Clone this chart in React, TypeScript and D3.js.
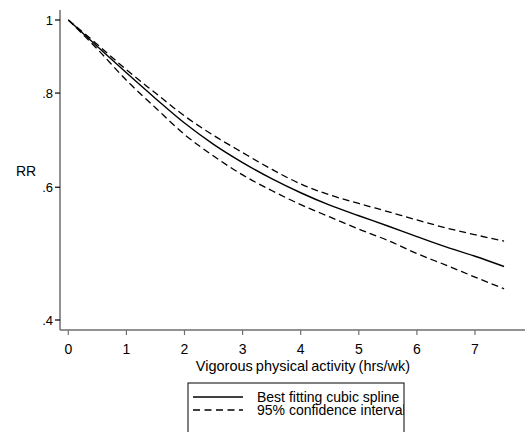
import React from "react";
import * as d3 from "d3";

// Vigorous physical activity (hrs/wk)
const hours = [0, 0.5, 1, 1.5, 2, 2.5, 3, 3.5, 4, 4.5, 5, 5.5, 6, 6.5, 7, 7.5];
// Relative risk from the fitted cubic spline
const rrFit = [1.0, 0.922, 0.851, 0.787, 0.73, 0.684, 0.647, 0.616, 0.59, 0.568, 0.55, 0.533, 0.516, 0.5, 0.486, 0.471];
// 95% confidence bounds
const rrUpper = [1.0, 0.928, 0.859, 0.8, 0.746, 0.703, 0.667, 0.634, 0.606, 0.586, 0.571, 0.557, 0.543, 0.53, 0.519, 0.509];
const rrLower = [1.0, 0.915, 0.832, 0.765, 0.705, 0.66, 0.623, 0.594, 0.569, 0.548, 0.528, 0.51, 0.49, 0.473, 0.456, 0.44];

const xTicks = [0, 1, 2, 3, 4, 5, 6, 7];
const yTicks = [0.4, 0.6, 0.8, 1];
const yTickLabels = [".4", ".6", ".8", "1"];
const legendLabels = ["Best fitting cubic spline", "95% confidence interval"];

const W = 525;
const H = 432;
const FONT = "'Liberation Sans', Arial, sans-serif";

export default function App() {
  const x = d3.scaleLinear().domain([0, 7]).range([68.3, 475]);
  const y = d3.scaleLog().domain([1, 0.4]).range([20, 320]);

  const line = d3
    .line<[number, number]>()
    .x((d) => x(d[0]))
    .y((d) => y(d[1]))
    .curve(d3.curveMonotoneX);

  const series = (vals: number[]) => line(hours.map((h, i) => [h, vals[i]] as [number, number])) || "";

  const axisColor = "#6e6e6e";
  const xAxisY = 330;
  const yAxisX = 60;

  const legendX = 188;
  const legendY = 383;
  const legendW = 216;

  return (
    <svg
      width={W}
      height={H}
      style={{ position: "absolute", left: 0, top: 0, background: "#fff" }}
      fontFamily={FONT}
    >
      <defs>
        <clipPath id="legend-clip">
          <rect x={legendX} y={legendY} width={legendW} height={70} />
        </clipPath>
      </defs>
      <rect width={W} height={H} fill="#fff" />
      {/* axes */}
      <line x1={yAxisX} x2={yAxisX} y1={10} y2={xAxisY} stroke={axisColor} strokeWidth={1.5} />
      <line x1={yAxisX} x2={W} y1={xAxisY} y2={xAxisY} stroke={axisColor} strokeWidth={1.5} />
      {yTicks.map((t, i) => (
        <g key={t}>
          <line x1={yAxisX - 5} x2={yAxisX} y1={y(t)} y2={y(t)} stroke="#000" strokeWidth={1.2} />
          <text x={yAxisX - 7} y={y(t)} dy="0.35em" textAnchor="end" fontSize={13}>
            {yTickLabels[i]}
          </text>
        </g>
      ))}
      {xTicks.map((t) => (
        <g key={t}>
          <line x1={x(t)} x2={x(t)} y1={xAxisY} y2={xAxisY + 5} stroke={axisColor} strokeWidth={1.2} />
          <text x={x(t)} y={xAxisY + 19} dy="0.35em" textAnchor="middle" fontSize={14}>
            {t}
          </text>
        </g>
      ))}
      <text x={26} y={171} dy="0.35em" textAnchor="middle" fontSize={14}>
        RR
      </text>
      <text x={303} y={366} dy="0.35em" textAnchor="middle" fontSize={14.5} wordSpacing={-1}>
        Vigorous physical activity (hrs/wk)
      </text>

      {/* curves */}
      <path d={series(rrUpper)} fill="none" stroke="#000" strokeWidth={1.3} strokeDasharray="7,4" />
      <path d={series(rrLower)} fill="none" stroke="#000" strokeWidth={1.3} strokeDasharray="7,4" />
      <path d={series(rrFit)} fill="none" stroke="#000" strokeWidth={1.4} />

      {/* legend */}
      <rect x={legendX} y={legendY} width={legendW} height={60} fill="#fff" stroke="#000" strokeWidth={1} />
      <g clipPath="url(#legend-clip)">
        <line x1={193} x2={243} y1={397} y2={397} stroke="#000" strokeWidth={1.3} />
        <line x1={193} x2={243} y1={410} y2={410} stroke="#000" strokeWidth={1.3} strokeDasharray="7,4.5" />
        <text x={257} y={397} dy="0.35em" fontSize={14}>
          {legendLabels[0]}
        </text>
        <text x={257} y={410} dy="0.35em" fontSize={14}>
          {legendLabels[1]}
        </text>
      </g>
    </svg>
  );
}
